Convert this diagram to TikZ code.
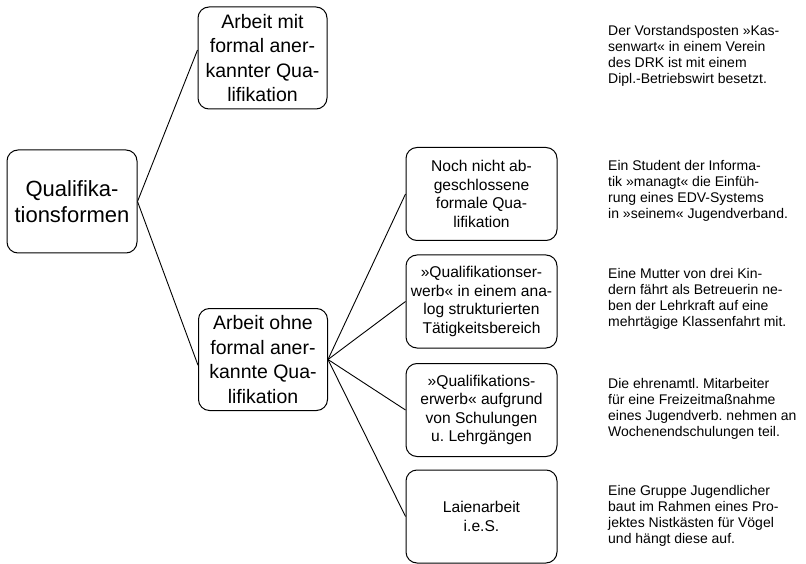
\documentclass[tikz,border=0pt]{standalone}
\usepackage{fontspec}
\setmainfont{Liberation Sans}
\frenchspacing
\begin{document}
\begin{tikzpicture}[x=1pt,y=-1pt,
  box/.style={draw, rounded corners=11pt, line width=1pt, align=center, inner sep=0pt},
  rootbox/.style={box, minimum width=130pt, minimum height=103pt, font=\fontsize{22}{26}\selectfont},
  mainbox/.style={box, minimum width=129pt, minimum height=102pt, font=\fontsize{19.5}{24.5}\selectfont},
  subbox/.style={box, minimum width=151pt, minimum height=93pt, font=\fontsize{15.6}{18.5}\selectfont},
  note/.style={anchor=west, align=left, inner sep=0pt, font=\fontsize{14}{16.1}\selectfont},
  link/.style={line width=0.9pt}]
\useasboundingbox (0,0) rectangle (806,564);

% tree of qualification forms
\node[rootbox] (root) at (72,201.5) {Qualifika-\\tionsformen};
\node[mainbox] (formal) at (262.5,58) {Arbeit mit\\formal aner-\\kannter Qua-\\lifikation};
\node[mainbox] (informal) at (263,359.5) {Arbeit ohne\\formal aner-\\kannte Qua-\\lifikation};

\node[subbox] (pending) at (481.5,194) {Noch nicht ab-\\geschlossene\\formale Qua-\\lifikation};
\node[subbox] (analog) at (481.5,301.5) {»Qualifikationser-\\werb« in einem ana-\\log strukturierten\\Tätigkeitsbereich};
\node[subbox] (training) at (481.5,410) {»Qualifikations-\\erwerb« aufgrund\\von Schulungen\\u. Lehrgängen};
\node[subbox] (lay) at (481.5,516.5) {Laienarbeit\\i.e.S.};

\draw[link] (root.east) -- (formal.173);
\draw[link] (root.east) -- (informal.185);
\draw[link] (informal.east) -- (pending.west);
\draw[link] (informal.east) -- (analog.west);
\draw[link] (informal.east) -- (training.west);
\draw[link] (informal.east) -- (lay.west);

% examples
\node[note] (ex1) at (608,56) {Der Vorstandsposten »Kas-\\senwart« in einem Verein\\des DRK ist mit einem\\Dipl.-Betriebswirt besetzt.};
\node[note] (ex2) at (608,191) {Ein Student der Informa-\\tik »managt« die Einfüh-\\rung eines EDV-Systems\\in »seinem« Jugendverband.};
\node[note] (ex3) at (608,299) {Eine Mutter von drei Kin-\\dern fährt als Betreuerin ne-\\ben der Lehrkraft auf eine\\mehrtägige Klassenfahrt mit.};
\node[note] (ex4) at (608,409) {Die ehrenamtl. Mitarbeiter\\für eine Freizeitmaßnahme\\eines Jugendverb. nehmen an\\Wochenendschulungen teil.};
\node[note] (ex5) at (608,516) {Eine Gruppe Jugendlicher\\baut im Rahmen eines Pro-\\jektes Nistkästen für Vögel\\und hängt diese auf.};
\end{tikzpicture}
\end{document}
